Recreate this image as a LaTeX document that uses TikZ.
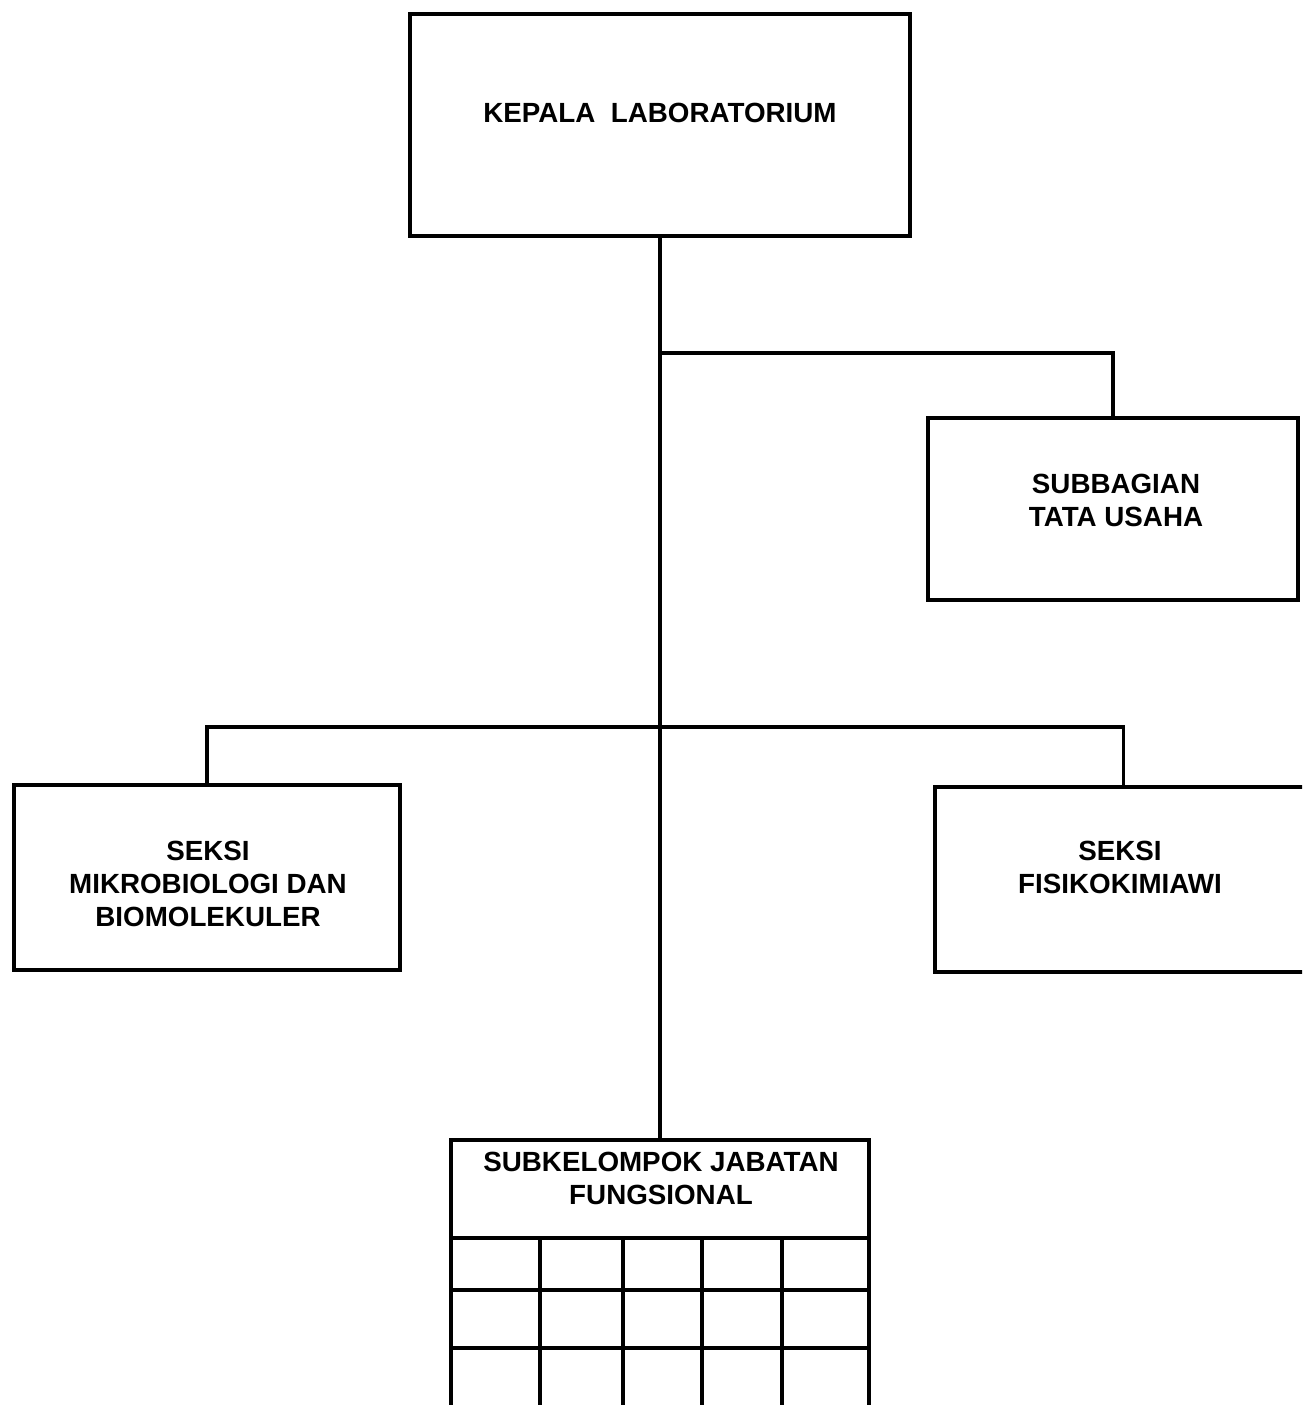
\documentclass[tikz,border=0pt]{standalone}
\usepackage{fontspec}
\setmainfont{Liberation Sans}
\usetikzlibrary{fit}
\begin{document}
\begin{tikzpicture}[x=0.02cm,y=-0.02cm,
  box/.style={draw, line width=2.2pt, rectangle, inner sep=0pt, outer sep=0pt},
  lbl/.style={align=center, font=\bfseries\fontsize{15.8}{18.8}\selectfont, inner sep=0pt},
  conn/.style={line width=1.9pt},
  grid/.style={line width=2.2pt}]
\useasboundingbox (0,0) rectangle (1302,1405);
\clip (0,0) rectangle (1302,1405);

% boxes
\node[box, fit={(410,14) (910,236)}] (kep) {};
\node[box, fit={(928,418) (1298,600)}] (tu) {};
\node[box, fit={(14,785) (400,970)}] (mik) {};
\node[box, fit={(935,787) (1312,972)}] (fis) {};
\node[box, fit={(451,1140) (869,1238)}] (sub) {};

% labels
\node[lbl] (tkep) at (660,113) {KEPALA\ \ LABORATORIUM};
\node[lbl] (ttu) at (1116,500) {SUBBAGIAN\\TATA USAHA};
\node[lbl] (tmik) at (208,884) {SEKSI\\MIKROBIOLOGI DAN\\BIOMOLEKULER};
\node[lbl] (tfis) at (1120,867) {SEKSI\\FISIKOKIMIAWI};
\node[lbl] (tsub) at (661,1178) {SUBKELOMPOK JABATAN\\FUNGSIONAL};

% grid below subkelompok header
\coordinate (g0) at (451,1420);
\draw[grid] (sub.south west) -- (g0);
\draw[grid] (sub.south east) -- (869,1420);
\foreach \gx in {540,623,702,782} {
  \draw[grid] (\gx,1238) -- (\gx,1420);
}
\foreach \gy in {1290,1348} {
  \draw[grid] (451,\gy) -- (869,\gy);
}

% connectors
\coordinate (j1) at (660,353);
\coordinate (j2) at (660,727);
\draw[conn] (kep.south) -- (sub.north);
\draw[conn] (j1) -| (tu.north);
\draw[conn] (j2) -| (mik.north);
\draw[conn] (j2) -| (fis.north);
\end{tikzpicture}
\end{document}
